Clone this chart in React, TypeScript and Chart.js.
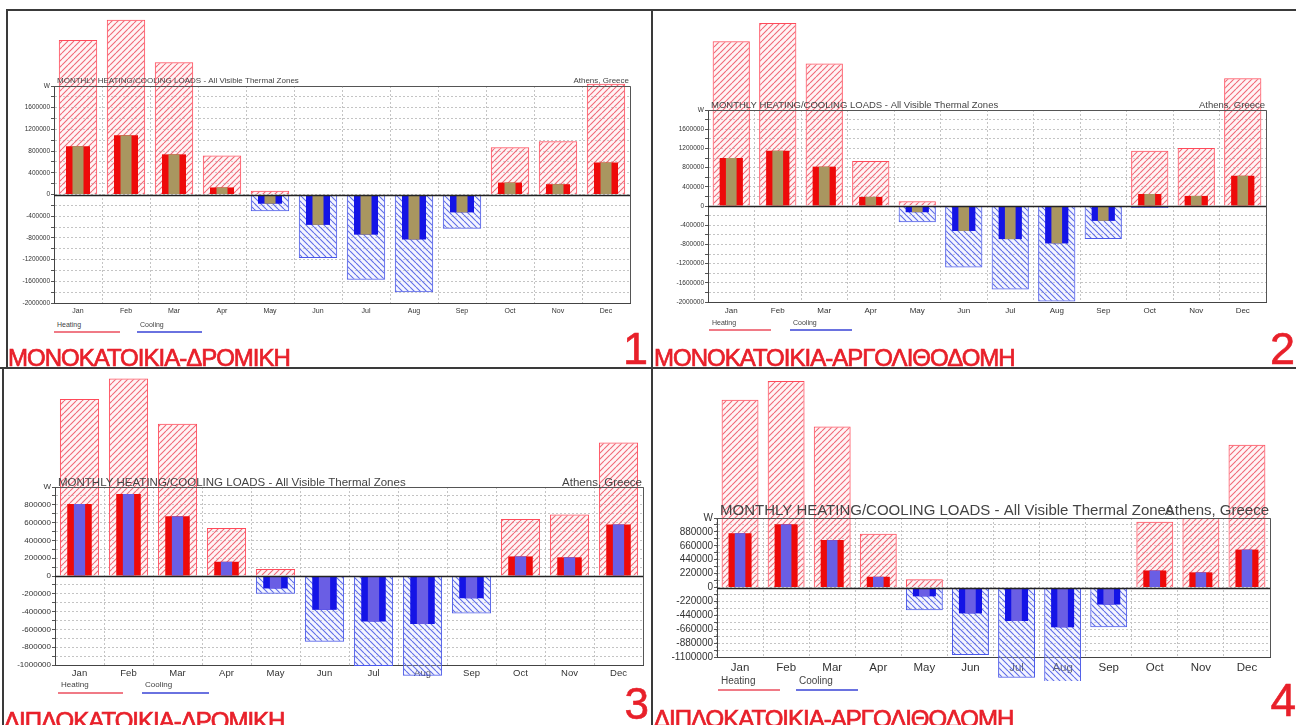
import React, { useEffect, useRef } from "react";
import { Chart, registerables } from "chart.js";

Chart.register(...registerables);

const FONT = '"Liberation Sans", Arial, Helvetica, sans-serif';

const months = ["Jan", "Feb", "Mar", "Apr", "May", "Jun", "Jul", "Aug", "Sep", "Oct", "Nov", "Dec"];
const legendLabels = ["Heating", "Cooling"];
const chartTitle = "MONTHLY HEATING/COOLING LOADS - All Visible Thermal Zones";
const siteName = "Athens, Greece";
const unitLabel = "W";

const panelTitles = [
  "ΜΟΝΟΚΑΤΟΙΚΙΑ-ΔΡΟΜΙΚΗ",
  "ΜΟΝΟΚΑΤΟΙΚΙΑ-ΑΡΓΟΛΙΘΟΔΟΜΗ",
  "ΔΙΠΛΟΚΑΤΟΙΚΙΑ-ΔΡΟΜΙΚΗ",
  "ΔΙΠΛΟΚΑΤΟΙΚΙΑ-ΑΡΓΟΛΙΘΟΔΟΜΗ",
];
const panelNumbers = ["1", "2", "3", "4"];
const axisLimits = [2000000, 2000000, 1000000, 1100000];
const axisSteps = [400000, 400000, 200000, 220000];

// Panel 1 (W)
const p1HeatPeak = [2850000, 3220000, 2440000, 720000, 70000, null, null, null, null, 870000, 980000, 2040000];
const p1CoolPeak = [null, null, null, null, -310000, -1170000, -1570000, -1800000, -630000, -30000, null, null];
const p1Heat = [890000, 1090000, 740000, 130000, null, null, null, null, null, 220000, 190000, 590000];
const p1Cool = [null, null, null, null, -170000, -560000, -740000, -830000, -330000, null, null, null];

// Panel 2 (W)
const p2HeatPeak = [3430000, 3810000, 2970000, 940000, 100000, null, null, null, null, 1150000, 1210000, 2660000];
const p2CoolPeak = [null, null, null, null, -340000, -1280000, -1740000, -1990000, -690000, -40000, null, null];
const p2Heat = [1000000, 1150000, 820000, 190000, null, null, null, null, null, 250000, 210000, 630000];
const p2Cool = [null, null, null, null, -130000, -520000, -690000, -780000, -310000, -20000, null, null];

// Panel 3 (W)
const p3HeatPeak = [1990000, 2220000, 1710000, 540000, 80000, null, null, null, null, 640000, 690000, 1500000];
const p3CoolPeak = [null, null, null, null, -200000, -740000, -1010000, -1120000, -420000, null, null, null];
const p3Heat = [810000, 920000, 670000, 160000, null, null, null, null, null, 220000, 210000, 580000];
const p3Cool = [null, null, null, null, -140000, -380000, -510000, -540000, -250000, null, null, null];

// Panel 4 (W)
const p4HeatPeak = [2970000, 3270000, 2550000, 850000, 130000, null, null, null, null, 1040000, 1100000, 2260000];
const p4CoolPeak = [null, null, null, null, -360000, -1070000, -1430000, -1560000, -630000, null, null, null];
const p4Heat = [860000, 1000000, 750000, 170000, null, null, null, null, null, 270000, 240000, 600000];
const p4Cool = [null, null, null, null, -140000, -410000, -530000, -630000, -270000, null, null, null];

const seriesByPanel = [
  { heatPeak: p1HeatPeak, coolPeak: p1CoolPeak, heat: p1Heat, cool: p1Cool },
  { heatPeak: p2HeatPeak, coolPeak: p2CoolPeak, heat: p2Heat, cool: p2Cool },
  { heatPeak: p3HeatPeak, coolPeak: p3CoolPeak, heat: p3Heat, cool: p3Cool },
  { heatPeak: p4HeatPeak, coolPeak: p4CoolPeak, heat: p4Heat, cool: p4Cool },
];

const TAN = "#a99660";
const SLATE = "#6a5ee4";

type Layout = {
  canvas: [number, number, number, number];
  plot: [number, number, number, number];
  tick: number;
  month: number;
  monthPad: number;
  title: number;
  titleOff: number;
  inner: string;
  legendY: number;
  legendFont: number;
  legendX: [number, number, number, number];
  greekTop: number;
  greekLeft: number;
  numTop: number;
  numRight: number;
  numSize: number;
};

const Y_W = 45;
const X_H = 18;

const LAYOUTS: Layout[] = [
  { canvas: [8, 11, 640, 310], plot: [54, 86, 630, 303], tick: 6.5, month: 7, monthPad: 4, title: 8, titleOff: 3, inner: TAN,
    legendY: 321, legendFont: 7, legendX: [54, 120, 137, 202], greekTop: 346, greekLeft: 8, numTop: 326, numRight: 648, numSize: 45 },
  { canvas: [654, 11, 640, 310], plot: [708, 110, 1266, 302], tick: 6.5, month: 8, monthPad: 4, title: 9.5, titleOff: 2, inner: TAN,
    legendY: 319, legendFont: 7, legendX: [709, 771, 790, 852], greekTop: 346, greekLeft: 654, numTop: 326, numRight: 1295, numSize: 45 },
  { canvas: [4, 371, 644, 310], plot: [55, 487, 643, 665], tick: 8, month: 9.5, monthPad: 3, title: 11.5, titleOff: 1, inner: SLATE,
    legendY: 681, legendFont: 8, legendX: [58, 123, 142, 209], greekTop: 709, greekLeft: 4, numTop: 682, numRight: 649, numSize: 44 },
  { canvas: [654, 371, 640, 310], plot: [717, 518, 1270, 657], tick: 10, month: 11.5, monthPad: 4, title: 15, titleOff: 3, inner: SLATE,
    legendY: 676, legendFont: 10, legendX: [718, 780, 796, 858], greekTop: 707, greekLeft: 654, numTop: 677, numRight: 1296, numSize: 46 },
];

function makeHatch(ctx: CanvasRenderingContext2D, line: string, bg: string, forward: boolean, size = 6) {
  const c = document.createElement("canvas");
  c.width = size;
  c.height = size;
  const g = c.getContext("2d")!;
  g.fillStyle = bg;
  g.fillRect(0, 0, size, size);
  g.strokeStyle = line;
  g.lineWidth = 1.1;
  g.beginPath();
  for (const o of [-size, 0, size]) {
    if (forward) {
      g.moveTo(o, size);
      g.lineTo(o + size, 0);
    } else {
      g.moveTo(o, 0);
      g.lineTo(o + size, size);
    }
  }
  g.stroke();
  return ctx.createPattern(c, "repeat")!;
}

const framePlugin = {
  id: "frame",
  afterDraw(chart: any, _args: any, opts: any) {
    const { ctx, chartArea: a } = chart;
    ctx.save();
    ctx.strokeStyle = "#555";
    ctx.lineWidth = 1;
    ctx.beginPath();
    ctx.moveTo(a.left, a.top + 0.5);
    ctx.lineTo(a.right + 0.5, a.top + 0.5);
    ctx.lineTo(a.right + 0.5, a.bottom);
    ctx.stroke();
    const y0 = Math.round(chart.scales.y.getPixelForValue(0)) + 0.5;
    ctx.strokeStyle = "#222";
    ctx.lineWidth = 1.5;
    ctx.beginPath();
    ctx.moveTo(a.left, y0);
    ctx.lineTo(a.right, y0);
    ctx.stroke();
    ctx.font = `${opts.titleSize}px ${FONT}`;
    ctx.fillStyle = "#444";
    ctx.textBaseline = "alphabetic";
    ctx.textAlign = "left";
    ctx.fillText(chartTitle, a.left + 3, a.top - opts.titleOff);
    ctx.textAlign = "right";
    ctx.fillText(siteName, a.right - 1, a.top - opts.titleOff);
    ctx.restore();
  },
};

function LoadChart({ idx }: { idx: number }) {
  const ref = useRef<HTMLCanvasElement>(null);
  const L = LAYOUTS[idx];
  const [cx, cy, cw, ch] = L.canvas;
  const [pl, pt, pr, pb] = L.plot;
  useEffect(() => {
    const canvas = ref.current!;
    const ctx = canvas.getContext("2d")!;
    const s = seriesByPanel[idx];
    const max = axisLimits[idx];
    const step = axisSteps[idx];
    const heatHatch = makeHatch(ctx, "rgba(240,90,105,0.9)", "rgba(255,215,220,0.28)", true);
    const coolHatch = makeHatch(ctx, "rgba(80,95,230,0.9)", "rgba(215,220,255,0.28)", false);
    const common = { grouped: false, categoryPercentage: 1, clip: false as any };
    const chart = new Chart(canvas, {
      type: "bar",
      data: {
        labels: months,
        datasets: [
          { ...common, label: "Heating peak", data: s.heatPeak, backgroundColor: heatHatch, borderColor: "#ff4a5a", borderWidth: 1, barPercentage: 0.8, order: 3 },
          { ...common, label: "Cooling peak", data: s.coolPeak, backgroundColor: coolHatch, borderColor: "#4a58e8", borderWidth: 1, barPercentage: 0.8, order: 3 },
          { ...common, label: legendLabels[0], data: s.heat, backgroundColor: "#ee0a0a", barPercentage: 0.5, order: 2 },
          { ...common, label: legendLabels[1], data: s.cool, backgroundColor: "#1414e6", barPercentage: 0.5, order: 2 },
          { ...common, label: legendLabels[0] + " (inner)", data: s.heat, backgroundColor: L.inner, barPercentage: 0.23, order: 1 },
          { ...common, label: legendLabels[1] + " (inner)", data: s.cool, backgroundColor: L.inner, barPercentage: 0.23, order: 1 },
        ] as any,
      },
      options: {
        responsive: false,
        animation: false,
        devicePixelRatio: 1,
        layout: {
          padding: {
            left: pl - cx - Y_W,
            top: pt - cy,
            right: cx + cw - pr,
            bottom: cy + ch - pb - X_H,
          },
        },
        plugins: {
          legend: { display: false },
          tooltip: { enabled: false },
          frame: { titleSize: L.title, titleOff: L.titleOff },
        } as any,
        scales: {
          x: {
            afterFit: (sc: any) => { sc.height = X_H; },
            ticks: { font: { family: FONT, size: L.month }, color: "#333", padding: L.monthPad, maxRotation: 0, autoSkip: false },
            grid: { offset: true, color: "#c4c4c4", drawTicks: false, lineWidth: 1 },
            border: { display: true, color: "#444", width: 1, dash: [2, 2] },
          },
          y: {
            min: -max,
            max: max,
            afterFit: (sc: any) => { sc.width = Y_W; },
            ticks: {
              stepSize: step / 2,
              autoSkip: false,
              font: { family: FONT, size: L.tick },
              color: "#333",
              padding: 1,
              callback: (v: any) => {
                const n = Number(v);
                if (Math.abs(n - max) < 1) return unitLabel;
                const r = Math.round(n / step);
                return Math.abs(r * step - n) < 1 ? String(r * step) : "";
              },
            },
            grid: { color: "#c4c4c4", lineWidth: 1, tickLength: 3, tickColor: "#555", drawTicks: true },
            border: { display: true, color: "#444", width: 1, dash: [2, 2] },
          },
        },
      } as any,
      plugins: [framePlugin],
    });
    return () => chart.destroy();
  }, [idx]);
  return (
    <canvas
      ref={ref}
      width={cw}
      height={ch}
      style={{ position: "absolute", left: cx, top: cy, width: cw, height: ch }}
    />
  );
}

function Legend({ idx }: { idx: number }) {
  const L = LAYOUTS[idx];
  const [h1, h2, c1, c2] = L.legendX;
  const txt = { position: "absolute" as const, fontFamily: FONT, fontSize: L.legendFont, color: "#444", lineHeight: 1, whiteSpace: "nowrap" as const };
  return (
    <>
      <div style={{ ...txt, left: h1 + 3, top: L.legendY }}>{legendLabels[0]}</div>
      <div style={{ position: "absolute", left: h1, top: L.legendY + L.legendFont + 3, width: h2 - h1, height: 1.5, background: "#f07a86" }} />
      <div style={{ ...txt, left: c1 + 3, top: L.legendY }}>{legendLabels[1]}</div>
      <div style={{ position: "absolute", left: c1, top: L.legendY + L.legendFont + 3, width: c2 - c1, height: 1.5, background: "#6a72e0" }} />
    </>
  );
}

export default function App() {
  const line = (left: number, top: number, width: number, height: number) => (
    <div style={{ position: "absolute", left, top, width, height, background: "#3a3a3a" }} />
  );
  return (
    <div style={{ position: "absolute", left: 0, top: 0, width: 1296, height: 725, background: "#fff", overflow: "hidden" }}>
      {[0, 1, 2, 3].map((i) => (
        <LoadChart key={"c" + i} idx={i} />
      ))}
      {[0, 1, 2, 3].map((i) => (
        <Legend key={"l" + i} idx={i} />
      ))}
      {line(7, 9, 645, 2)}
      {line(653, 9, 643, 2)}
      {line(6, 9, 2, 360)}
      {line(651, 9, 2, 716)}
      {line(0, 367, 1296, 2)}
      {line(2, 369, 2, 356)}
      {[0, 1, 2, 3].map((i) => {
        const L = LAYOUTS[i];
        return (
          <React.Fragment key={"t" + i}>
            <div
              style={{
                position: "absolute",
                left: L.greekLeft,
                top: L.greekTop,
                fontFamily: FONT,
                fontSize: 24,
                letterSpacing: -1,
                lineHeight: 1,
                color: "#e8202a",
                WebkitTextStroke: "0.7px #e8202a",
                whiteSpace: "nowrap",
              }}
            >
              {panelTitles[i]}
            </div>
            <div
              style={{
                position: "absolute",
                right: 1296 - L.numRight,
                top: L.numTop,
                fontFamily: FONT,
                fontSize: L.numSize,
                lineHeight: 1,
                color: "#e8202a",
                WebkitTextStroke: "0.6px #e8202a",
              }}
            >
              {panelNumbers[i]}
            </div>
          </React.Fragment>
        );
      })}
    </div>
  );
}
